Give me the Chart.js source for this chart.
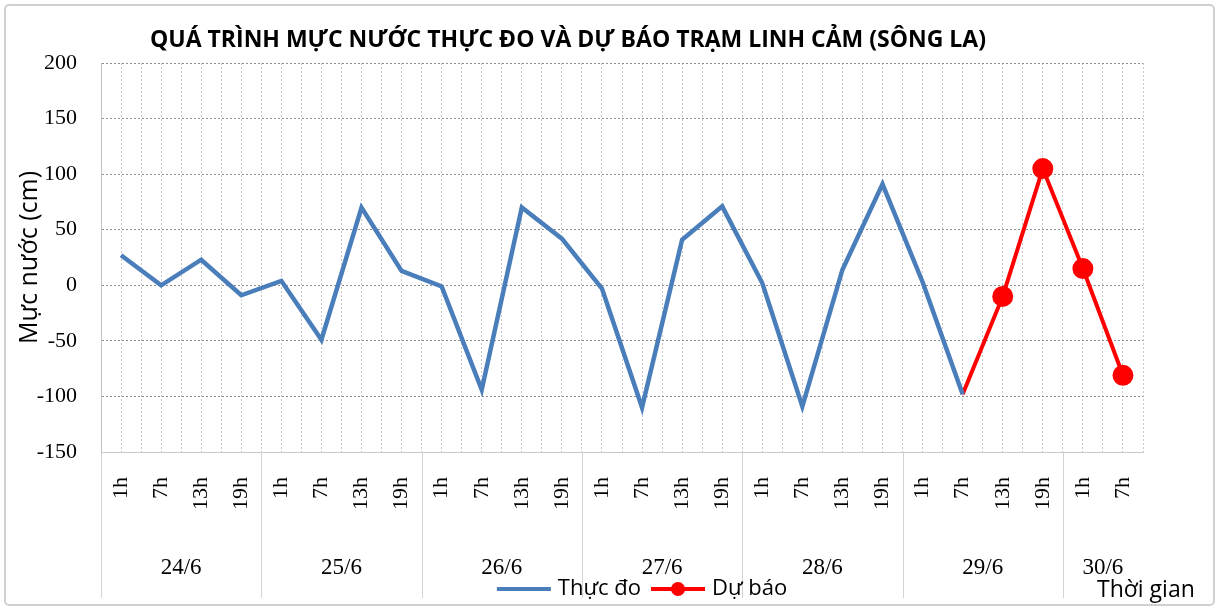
<!DOCTYPE html>
<html>
<head>
<meta charset="utf-8">
<title>Mực nước trạm Linh Cảm</title>
<script src="https://cdn.jsdelivr.net/npm/chart.js@4.4.1/dist/chart.umd.min.js"></script>
<style>
  html, body { margin: 0; padding: 0; background: #fff; }
  #wrap { width: 1219px; height: 610px; }
</style>
</head>
<body>
<div id="wrap"><canvas id="mucNuocChart" width="1219" height="610"></canvas></div>
<script>
// hours along the x axis, grouped by day
const hourLabels = [
  "1h", "7h", "13h", "19h",
  "1h", "7h", "13h", "19h",
  "1h", "7h", "13h", "19h",
  "1h", "7h", "13h", "19h",
  "1h", "7h", "13h", "19h",
  "1h", "7h", "13h", "19h",
  "1h", "7h"
];
const dayLabels = ["24/6", "25/6", "26/6", "27/6", "28/6", "29/6", "30/6"];
const daySizes = [4, 4, 4, 4, 4, 4, 2];

// water level (cm)
const thucDo = [
  27, 0, 23, -9,
  4, -49, 70, 13,
  -1, -94, 70, 42,
  -3, -110, 41, 71,
  2, -109, 14, 91,
  3, -98, null, null,
  null, null
];
const duBao = [
  null, null, null, null,
  null, null, null, null,
  null, null, null, null,
  null, null, null, null,
  null, null, null, null,
  null, -98, -10, 105,
  15, -81
];

const yMin = -150;
const yMax = 200;
const yStep = 50;

const chartTitle = "QUÁ TRÌNH MỰC NƯỚC THỰC ĐO VÀ DỰ BÁO TRẠM LINH CẢM (SÔNG LA)";
const yTitle = "Mực nước (cm)";
const xTitle = "Thời gian";

const BLUE = "#4A7EBB";
const RED = "#FF0000";
const SANS = "'Open Sans', 'Noto Sans', sans-serif";
const SERIF = "'Liberation Serif', 'DejaVu Serif', serif";

// little legend swatches: plain line, and line with a dot
const makeSwatch = (color, width, dot) => {
  const c = document.createElement("canvas");
  c.width = 56;
  c.height = 18;
  const g = c.getContext("2d");
  g.strokeStyle = color;
  g.lineWidth = width;
  g.beginPath();
  g.moveTo(1, 9);
  g.lineTo(55, 9);
  g.stroke();
  if (dot) {
    g.fillStyle = color;
    g.beginPath();
    g.arc(28, 9, 7, 0, Math.PI * 2);
    g.fill();
  }
  return c;
};
const blueSwatch = makeSwatch(BLUE, 4, false);
const redSwatch = makeSwatch(RED, 4, true);

// frame, day separators and day labels under the hour ticks
const dayAxisPlugin = {
  id: "dayAxis",
  afterLayout(chart) {
    // the spreadsheet legend sits a bit right of centre
    chart.legend.left += 22;
    chart.legend.right += 22;
  },
  beforeDraw(chart) {
    const ctx = chart.ctx;
    const x = chart.scales.x;
    const area = chart.chartArea;

    ctx.save();
    ctx.fillStyle = "#fff";
    ctx.fillRect(0, 0, chart.width, chart.height);
    ctx.strokeStyle = "#d0d0d0";
    ctx.lineWidth = 2;
    ctx.beginPath();
    ctx.roundRect(5, 5, chart.width - 10, chart.height - 10, 4);
    ctx.stroke();

    let start = 0;
    ctx.strokeStyle = "#d4d4d4";
    ctx.lineWidth = 1;
    ctx.fillStyle = "#000";
    ctx.font = "23px " + SERIF;
    ctx.textAlign = "center";
    ctx.textBaseline = "middle";
    daySizes.forEach((n, i) => {
      const left = x.getPixelForValue(start - 0.5);
      const right = x.getPixelForValue(start + n - 0.5);
      const px = Math.round(left) + 0.5;
      ctx.beginPath();
      ctx.moveTo(px, area.bottom);
      ctx.lineTo(px, 598);
      ctx.stroke();
      ctx.fillText(dayLabels[i], (left + right) / 2, 568);
      start += n;
    });
    ctx.restore();
  },
  afterDraw(chart) {
    const ctx = chart.ctx;
    ctx.save();
    ctx.fillStyle = "#000";
    ctx.font = "bold 23px " + SANS;
    ctx.textAlign = "center";
    ctx.textBaseline = "middle";
    ctx.fillText(chartTitle, 568, 40);

    ctx.font = "23px " + SANS;
    ctx.textAlign = "left";
    ctx.fillText(xTitle, 1097, 590);
    ctx.restore();
  }
};

const ctx = document.getElementById("mucNuocChart").getContext("2d");

window.mucNuocChart = new Chart(ctx, {
  type: "line",
  data: {
    labels: hourLabels,
    datasets: [
      {
        label: "Thực đo",
        data: thucDo,
        borderColor: BLUE,
        backgroundColor: BLUE,
        borderWidth: 4.5,
        pointRadius: 0,
        tension: 0,
        spanGaps: false
      },
      {
        label: "Dự báo",
        data: duBao,
        borderColor: RED,
        backgroundColor: RED,
        borderWidth: 4,
        pointRadius: duBao.map((v, i) => (i === 21 ? 0 : 8.5)),
        pointHoverRadius: 8.5,
        tension: 0
      }
    ]
  },
  options: {
    responsive: false,
    animation: false,
    layout: {
      padding: { top: 63, left: 8, right: 76, bottom: 0 }
    },
    scales: {
      x: {
        type: "category",
        offset: true,
        grid: {
          offset: true,
          color: "#c8c8c8",
          drawTicks: false
        },
        border: { color: "#c8c8c8", dash: [2, 2] },
        ticks: {
          color: "#000",
          font: { family: SERIF, size: 22 },
          minRotation: 90,
          maxRotation: 90,
          autoSkip: false,
          padding: 25
        },
        afterFit(scale) {
          scale.height = 112;
        }
      },
      xc: {
        type: "category",
        position: "bottom",
        offset: true,
        grid: {
          offset: false,
          color: "#c8c8c8",
          drawTicks: false
        },
        border: { display: false, dash: [2, 2] },
        ticks: { display: false }
      },
      y: {
        min: yMin,
        max: yMax,
        grid: {
          color: "#8c8c8c",
          drawTicks: false
        },
        border: { color: "#c0c0c0", dash: [2, 2] },
        ticks: {
          stepSize: yStep,
          color: "#000",
          font: { family: SERIF, size: 22 },
          padding: 24
        },
        title: {
          display: true,
          text: yTitle,
          color: "#000",
          font: { family: SANS, size: 25 },
          padding: { top: 7, bottom: 0 }
        },
        afterFit(scale) {
          scale.width = 93;
        }
      }
    },
    plugins: {
      title: { display: false },
      tooltip: { enabled: false },
      legend: {
        position: "bottom",
        fullSize: false,
        labels: {
          color: "#000",
          font: { family: SANS, size: 22 },
          usePointStyle: true,
          pointStyleWidth: 46,
          padding: 14,
          generateLabels: (chart) => [
            { text: "Thực đo", pointStyle: blueSwatch, datasetIndex: 0, lineWidth: 0, strokeStyle: BLUE, fillStyle: BLUE },
            { text: "Dự báo", pointStyle: redSwatch, datasetIndex: 1, lineWidth: 0, strokeStyle: RED, fillStyle: RED }
          ]
        }
      }
    }
  },
  plugins: [dayAxisPlugin]
});
</script>
</body>
</html>
